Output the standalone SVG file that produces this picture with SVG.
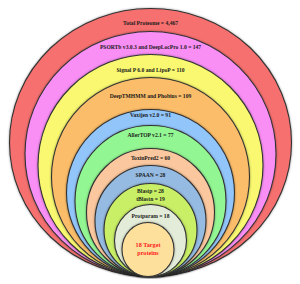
<svg xmlns="http://www.w3.org/2000/svg" width="300" height="284" viewBox="0 0 300 284">
<style>
.c{stroke:#333;stroke-width:1.1;filter:url(#sh)}
.t{font-family:"Liberation Serif",serif;font-weight:bold;font-size:5.6px;text-anchor:middle;fill:#1a1a1a}
.r{fill:#ff2020;font-size:6.2px}
</style>
<defs>
<filter id="sh" x="-10%" y="-10%" width="120%" height="120%">
<feDropShadow dx="0" dy="0" stdDeviation="1" flood-color="#000" flood-opacity="0.4"/>
</filter>
</defs>
<rect width="300" height="284" fill="#fff"/>
<g id="n1"><ellipse class="c" cx="150.5" cy="142.5" rx="141" ry="134" fill="#f76f6f"/><text class="t" x="150.5" y="25">Total Proteome = 4,467</text></g>
<g id="n2"><ellipse class="c" cx="150.5" cy="154" rx="125.5" ry="122.5" fill="#f98ef5"/><text class="t" x="150.5" y="49">PSORTb v3.0.3 and DeepLocPro 1.0 = 147</text></g>
<g id="n3"><ellipse class="c" cx="150.5" cy="165.5" rx="112.5" ry="111" fill="#f9f870"/><text class="t" x="150.5" y="72">Signal P 6.0 and LipoP = 110</text></g>
<g id="n4"><ellipse class="c" cx="150.5" cy="177" rx="99" ry="99.5" fill="#fbbd69"/><text class="t" x="150.5" y="98">DeepTMHMM and Phobius = 109</text></g>
<g id="n5"><ellipse class="c" cx="150.5" cy="193" rx="84" ry="83.5" fill="#92c6fb"/><text class="t" x="150.5" y="117">Vaxijen v2.0 = 91</text></g>
<g id="n6"><ellipse class="c" cx="150.5" cy="201" rx="75.5" ry="75.5" fill="#92f792"/><text class="t" x="150.5" y="137">AllerTOP v2.1 = 77</text></g>
<g id="n7"><ellipse class="c" cx="150.5" cy="212.5" rx="64" ry="64" fill="#fbc79e"/><text class="t" x="150.5" y="160">ToxinPred2 = 60</text></g>
<g id="n8"><ellipse class="c" cx="150.5" cy="221" rx="55.5" ry="55.5" fill="#95bbe2"/><text class="t" x="150.5" y="177">SPAAN = 28</text></g>
<g id="n9"><ellipse class="c" cx="150.5" cy="230" rx="46.5" ry="46.5" fill="#c8ef66"/><text class="t" x="150.5" y="193">Blastp = 28</text><text class="t" x="150.5" y="201">tBlastn = 19</text></g>
<g id="n10"><ellipse class="c" cx="150.5" cy="240.5" rx="36" ry="36" fill="#e3ecd9"/><text class="t" x="150.5" y="218">Protparam = 18</text></g>
<g id="n11"><ellipse class="c" cx="148" cy="249.5" rx="26" ry="27" fill="#fde09c"/><text class="t r" x="148" y="247">18 Target</text><text class="t r" x="148" y="254.5">proteins</text></g>
<g id="connectors"/>
</svg>
